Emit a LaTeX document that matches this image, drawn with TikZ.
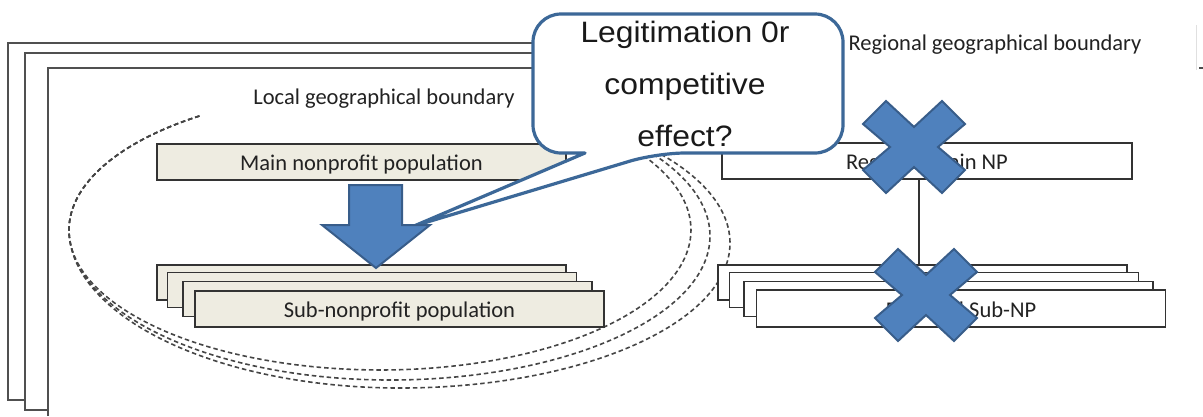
\documentclass[tikz,border=0pt]{standalone}
\usepackage{fontspec}
\setmainfont{Carlito}
\newfontfamily\bubblefont[FakeStretch=1.08]{Liberation Sans}
\definecolor{boxfill}{HTML}{EEECE1}
\definecolor{npblue}{HTML}{4F81BD}
\definecolor{npblueline}{HTML}{385D8A}
\definecolor{bubbleline}{HTML}{3C6898}
\definecolor{frameline}{HTML}{505050}
\definecolor{dashline}{HTML}{454545}
\definecolor{txt}{HTML}{222222}
\tikzset{
  framepath/.style={draw=frameline, line width=1.7pt},
  dashcurve/.style={draw=dashline, line width=1.6pt, dash pattern=on 4.5pt off 3pt},
  lbl/.style={text=txt, font=\fontsize{22.5}{26}\selectfont, inner sep=0pt},
  npbox/.style={draw=black!80, line width=1.7pt, fill=boxfill, minimum width=409pt,
    minimum height=35pt, inner sep=0pt, text=txt, font=\fontsize{22.5}{26}\selectfont,
    text height=17pt, text depth=0pt},
  regbox/.style={npbox, fill=white},
  blockarrow/.style={fill=npblue, draw=npblueline, line width=2pt, line join=miter},
  bubble/.style={fill=white, draw=bubbleline, line width=3.2pt, line join=round},
  bubbletxt/.style={text=black!90, font=\bubblefont\fontsize{29.5}{32}\selectfont, inner sep=0pt, anchor=base},
  crossmark/.pic={
    \path[blockarrow] (-28,-46) -- (0,-20) -- (28,-46) -- (51,-23) -- (24,0) -- (51,23)
      -- (28,46) -- (0,20) -- (-28,46) -- (-51,23) -- (-24,0) -- (-51,-23) -- cycle;
  }
}
\begin{document}
\begin{tikzpicture}[x=1pt,y=1pt,yscale=-1]
\useasboundingbox (0,0) rectangle (1203,416);
\fill[white] (0,0) rectangle (1203,416);

% stacked boundary frames
\draw[framepath] (700,43) -- (8,43) -- (8,400) -- (25,400);
\draw[framepath] (700,53) -- (25,53) -- (25,410) -- (48,410);
\draw[framepath] (700,68) -- (48,68) -- (48,416);
% fragment at the right edge
\draw[black!12, line width=0.8pt] (1196,25) -- (1196,70);
\draw[black!70, line width=1.4pt] (1199,68) -- (1203,68);

% dashed ellipses
\draw[dashcurve] (199.4,116) arc[start angle=234.5, end angle=-50, x radius=311, y radius=140];
\draw[dashcurve] (199.4,116) arc[start angle=234.5, end angle=180, x radius=311, y radius=140]
  .. controls (70,313) and (213,380) .. (390,380)
  .. controls (567,380) and (710,315) .. (710,236)
  arc[start angle=0, end angle=-48, x radius=320, y radius=144];
\draw[dashcurve] (199.4,116) arc[start angle=234.5, end angle=180, x radius=311, y radius=140]
  .. controls (70,317) and (218,388) .. (400,388)
  .. controls (582,388) and (730,323) .. (730,243)
  arc[start angle=0, end angle=-50, x radius=330, y radius=145];

% boundary labels
\node[lbl, anchor=mid] (localb) at (384,102) {Local geographical boundary};
\node[lbl, anchor=mid] (regb) at (995,48) {Regional geographical boundary};

% local populations
\node[npbox, minimum height=36pt] (main) at (361.5,162) {Main nonprofit population};
\node[npbox] (sub1) at (361.5,282.5) {};
\node[npbox] (sub2) at (372,290) {};
\node[npbox] (sub3) at (387.5,299) {};
\node[npbox, minimum height=36pt] (sub4) at (399.5,309) {Sub-nonprofit population};

% regional populations
\node[regbox, minimum width=410pt, minimum height=36pt] (rmain) at (927,161) {Regional Main NP};
\node[regbox] (rsub1) at (922.5,282.5) {};
\node[regbox] (rsub2) at (934,290) {};
\node[regbox] (rsub3) at (948.5,299) {};
\node[regbox, minimum height=37pt] (rsub4) at (961,308.5) {Regional Sub-NP};
\coordinate (vx) at (919,0);
\draw[black!80, line width=1.6pt] (rmain.south -| vx) -- (rsub1.north -| vx);

% speech bubble
\draw[bubble] (414,226) -- (585,153) [rounded corners=28pt] -- (533,153) -- (533,14)
  -- (843,14) -- (843,153) -- (657,153) [sharp corners] -- cycle;
\node[bubbletxt] (q1) at (685,42) {Legitimation 0r};
\node[bubbletxt] (q2) at (685,94.5) {competitive};
\node[bubbletxt] (q3) at (685,146) {effect?};

% block arrow main -> sub
\path[blockarrow] (349,185) -- (402,185) -- (402,225) -- (430,225) -- (376,268)
  -- (322,225) -- (349,225) -- cycle;

% crosses on the regional level
\pic (xtop) at (914,147) {crossmark};
\pic (xbot) at (926,295) {crossmark};
\end{tikzpicture}
\end{document}
